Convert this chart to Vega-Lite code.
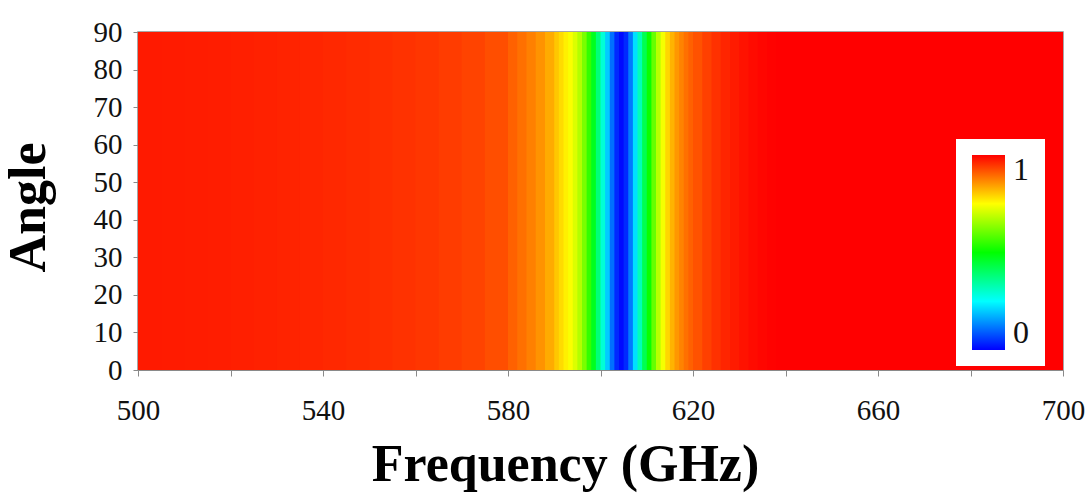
{
  "$schema": "https://vega.github.io/schema/vega-lite/v6.json",
  "width": 925,
  "height": 338,
  "autosize": "none",
  "padding": {"left": 138, "top": 32, "right": 29, "bottom": 125},
  "background": "white",
  "config": {
    "view": {"stroke": "#8a8a8a", "strokeWidth": 1.5},
    "font": "Liberation Serif"
  },
  "data": {
    "values": [
      {"f": 500, "f2": 505, "t": 0.975},
      {"f": 505, "f2": 510, "t": 0.974},
      {"f": 510, "f2": 515, "t": 0.973},
      {"f": 515, "f2": 520, "t": 0.972},
      {"f": 520, "f2": 525, "t": 0.970},
      {"f": 525, "f2": 530, "t": 0.968},
      {"f": 530, "f2": 535, "t": 0.966},
      {"f": 535, "f2": 540, "t": 0.964},
      {"f": 540, "f2": 545, "t": 0.961},
      {"f": 545, "f2": 550, "t": 0.958},
      {"f": 550, "f2": 555, "t": 0.955},
      {"f": 555, "f2": 560, "t": 0.951},
      {"f": 560, "f2": 565, "t": 0.947},
      {"f": 565, "f2": 570, "t": 0.941},
      {"f": 570, "f2": 575, "t": 0.934},
      {"f": 575, "f2": 580, "t": 0.924},
      {"f": 580, "f2": 582, "t": 0.905},
      {"f": 582, "f2": 584, "t": 0.890},
      {"f": 584, "f2": 586, "t": 0.875},
      {"f": 586, "f2": 588, "t": 0.856},
      {"f": 588, "f2": 590, "t": 0.832},
      {"f": 590, "f2": 591, "t": 0.805},
      {"f": 591, "f2": 592, "t": 0.785},
      {"f": 592, "f2": 593, "t": 0.765},
      {"f": 593, "f2": 594, "t": 0.745},
      {"f": 594, "f2": 595, "t": 0.715},
      {"f": 595, "f2": 596, "t": 0.675},
      {"f": 596, "f2": 597, "t": 0.620},
      {"f": 597, "f2": 598, "t": 0.550},
      {"f": 598, "f2": 599, "t": 0.470},
      {"f": 599, "f2": 600, "t": 0.380},
      {"f": 600, "f2": 601, "t": 0.290},
      {"f": 601, "f2": 602, "t": 0.200},
      {"f": 602, "f2": 603, "t": 0.110},
      {"f": 603, "f2": 604, "t": 0.040},
      {"f": 604, "f2": 605, "t": 0.010},
      {"f": 605, "f2": 606, "t": 0.040},
      {"f": 606, "f2": 607, "t": 0.120},
      {"f": 607, "f2": 608, "t": 0.220},
      {"f": 608, "f2": 609, "t": 0.320},
      {"f": 609, "f2": 610, "t": 0.420},
      {"f": 610, "f2": 611, "t": 0.510},
      {"f": 611, "f2": 612, "t": 0.600},
      {"f": 612, "f2": 613, "t": 0.680},
      {"f": 613, "f2": 614, "t": 0.740},
      {"f": 614, "f2": 615, "t": 0.790},
      {"f": 615, "f2": 616, "t": 0.825},
      {"f": 616, "f2": 617, "t": 0.852},
      {"f": 617, "f2": 618, "t": 0.872},
      {"f": 618, "f2": 619, "t": 0.890},
      {"f": 619, "f2": 620, "t": 0.905},
      {"f": 620, "f2": 622, "t": 0.920},
      {"f": 622, "f2": 624, "t": 0.937},
      {"f": 624, "f2": 626, "t": 0.952},
      {"f": 626, "f2": 628, "t": 0.964},
      {"f": 628, "f2": 630, "t": 0.974},
      {"f": 630, "f2": 632, "t": 0.982},
      {"f": 632, "f2": 634, "t": 0.989},
      {"f": 634, "f2": 636, "t": 0.994},
      {"f": 636, "f2": 638, "t": 0.998},
      {"f": 638, "f2": 700, "t": 1.0}
    ]
  },
  "mark": {"type": "rect", "x2Offset": 1, "clip": true},
  "encoding": {
    "x": {
      "field": "f",
      "type": "quantitative",
      "scale": {"domain": [500, 700], "nice": false, "zero": false},
      "axis": {
        "title": "Frequency (GHz)",
        "titleFont": "Liberation Serif",
        "titleFontSize": 52,
        "titleFontWeight": "bold",
        "titleColor": "#000",
        "titleX": 427,
        "titleY": 110,
        "titleBaseline": "alphabetic",
        "values": [500, 520, 540, 560, 580, 600, 620, 640, 660, 680, 700],
        "labelExpr": "(datum.value - 500) % 40 == 0 ? datum.label : ''",
        "labelFont": "Liberation Serif",
        "labelFontSize": 29,
        "labelColor": "#111",
        "labelPadding": 20,
        "labelFlush": false,
        "labelOverlap": false,
        "tickSize": 6,
        "tickColor": "#8a8a8a",
        "domainColor": "#8a8a8a",
        "grid": false
      }
    },
    "x2": {"field": "f2"},
    "y": {
      "datum": 0,
      "type": "quantitative",
      "scale": {"domain": [0, 90], "nice": false, "zero": false},
      "axis": {
        "title": "Angle",
        "titleFont": "Liberation Serif",
        "titleFontSize": 52,
        "titleFontWeight": "bold",
        "titleColor": "#000",
        "titleX": -110,
        "titleY": 175,
        "titleAngle": 270,
        "titleAlign": "center",
        "titleBaseline": "middle",
        "values": [0, 10, 20, 30, 40, 50, 60, 70, 80, 90],
        "labelFont": "Liberation Serif",
        "labelFontSize": 29,
        "labelColor": "#111",
        "labelPadding": 11,
        "labelFlush": false,
        "labelOverlap": false,
        "tickSize": 5,
        "tickColor": "#8a8a8a",
        "domainColor": "#8a8a8a",
        "grid": false
      }
    },
    "y2": {"datum": 90},
    "color": {
      "field": "t",
      "type": "quantitative",
      "scale": {
        "domain": [0, 0.25, 0.5, 0.75, 1],
        "range": ["#0000ff", "#00ffff", "#00ff00", "#ffff00", "#ff0000"],
        "interpolate": "rgb"
      },
      "legend": {
        "type": "gradient",
        "title": null,
        "orient": "none",
        "legendX": 818,
        "legendY": 107,
        "direction": "vertical",
        "fillColor": "white",
        "padding": 16,
        "gradientLength": 195,
        "gradientThickness": 33,
        "gradientStrokeWidth": 0,
        "values": [0, 1],
        "format": "d",
        "labelFont": "Liberation Serif",
        "labelFontSize": 32,
        "labelColor": "#111",
        "labelOffset": 8
      }
    }
  }
}
